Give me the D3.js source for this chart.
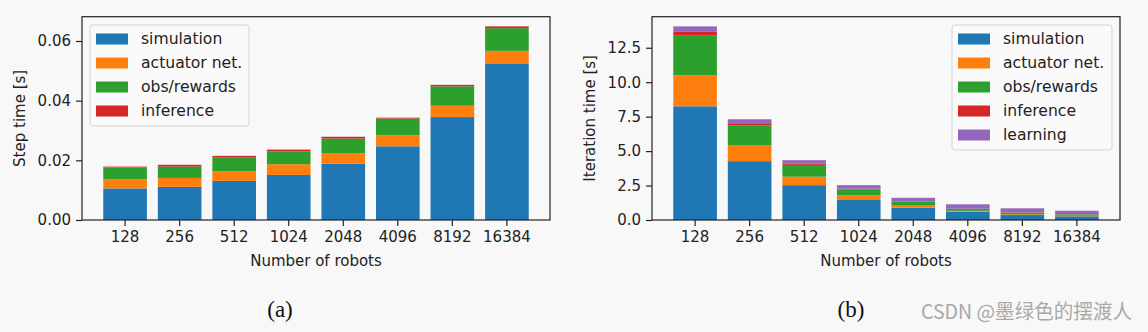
<!DOCTYPE html>
<html><head><meta charset="utf-8">
<script src="https://cdn.jsdelivr.net/npm/d3@7"></script>
<style>
html,body{margin:0;padding:0;background:#f8f8f8;}
svg{display:block;}
</style></head>
<body>
<script>
// ---- data ----
const categories = ["128","256","512","1024","2048","4096","8192","16384"];
const seriesNames = ["simulation","actuator net.","obs/rewards","inference","learning"];
const colors = ["#1f77b4","#ff7f0e","#2ca02c","#d62728","#9467bd"];

// (a) step time [s]
const stepSimulation = [0.0106,0.0111,0.0131,0.0151,0.0189,0.0247,0.0345,0.0525];
const stepActuator   = [0.0031,0.0030,0.0033,0.0036,0.0034,0.0037,0.0038,0.0042];
const stepObs        = [0.0039,0.0038,0.0045,0.0043,0.0050,0.0056,0.0065,0.0076];
const stepInference  = [0.0003,0.0006,0.0006,0.0006,0.0006,0.0003,0.0005,0.0006];
const stepTicks = [0, 0.02, 0.04, 0.06];

// (b) iteration time [s]
const iterSimulation = [8.25,4.27,2.53,1.45,0.89,0.60,0.36,0.27];
const iterActuator   = [2.25,1.14,0.61,0.34,0.15,0.07,0.05,0.04];
const iterObs        = [2.87,1.47,0.86,0.43,0.29,0.13,0.12,0.10];
const iterInference  = [0.32,0.14,0.10,0.05,0.03,0.02,0.02,0.02];
const iterLearning   = [0.36,0.29,0.24,0.26,0.25,0.32,0.30,0.24];
const iterTicks = [0, 2.5, 5.0, 7.5, 10.0, 12.5];

const W = 1148, H = 332;
const SANS = '"DejaVu Sans", sans-serif';
const svg = d3.select("body").append("svg").attr("width", W).attr("height", H);
svg.append("rect").attr("width", W).attr("height", H).attr("fill", "#f8f8f8");

function drawChart(opt) {
  const {x0, x1, yTop, yBot, series, names, ticks, fmt, ylabel, ylabelX, legendX, legendW} = opt;
  const g = svg.append("g");
  const rows = categories.map((c, i) => {
    const r = {cat: c};
    names.forEach((n, k) => r[n] = series[k][i]);
    return r;
  });
  const stack = d3.stack().keys(names)(rows);
  const maxTotal = d3.max(rows, r => d3.sum(names, n => r[n]));
  const x = d3.scaleBand().domain(categories).range([x0, x1]).paddingInner(0.2).paddingOuter(0.39);
  const y = d3.scaleLinear().domain([0, maxTotal * 1.05]).range([yBot, yTop]);

  stack.forEach((layer, k) => {
    g.append("g").attr("fill", colors[k]).selectAll("rect").data(layer).join("rect")
      .attr("x", d => x(d.data.cat))
      .attr("width", x.bandwidth())
      .attr("y", d => y(d[1]))
      .attr("height", d => Math.max(0, y(d[0]) - y(d[1])));
  });

  // axes
  const ax = g.append("g").attr("transform", `translate(0,${yBot})`)
    .call(d3.axisBottom(x).tickSize(6).tickPadding(5));
  const ay = g.append("g").attr("transform", `translate(${x0},0)`)
    .call(d3.axisLeft(y).tickValues(ticks).tickFormat(fmt).tickSize(6).tickPadding(5));
  [ax, ay].forEach(a => {
    a.select(".domain").remove();
    a.selectAll("line").attr("stroke", "#222").attr("stroke-width", 1.2);
    a.selectAll("text").style("font-size", "15px").attr("fill", "#222")
      .style("font-family", SANS);
  });
  // frame
  g.append("rect").attr("x", x0).attr("y", yTop).attr("width", x1 - x0).attr("height", yBot - yTop)
    .attr("fill", "none").attr("stroke", "#222").attr("stroke-width", 1.2);

  g.append("text").attr("x", (x0 + x1) / 2).attr("y", 266).attr("text-anchor", "middle")
    .style("font-family", SANS).style("font-size", "15px").attr("fill", "#222").text("Number of robots");
  g.append("text").attr("transform", `translate(${ylabelX},${(yTop + yBot) / 2}) rotate(-90)`)
    .attr("text-anchor", "middle").attr("dy", "0.35em")
    .style("font-family", SANS).style("font-size", "15px").attr("fill", "#222").text(ylabel);

  // legend
  const rowH = 24;
  const lg = g.append("g").attr("transform", `translate(${legendX},25)`);
  lg.append("rect").attr("width", legendW).attr("height", names.length * rowH + 5)
    .attr("rx", 3).attr("fill", "#f9f9f9").attr("fill-opacity", 0.9)
    .attr("stroke", "#d4d4d4").attr("stroke-width", 1);
  names.forEach((n, k) => {
    lg.append("rect").attr("x", 6).attr("y", 8.5 + k * rowH).attr("width", 32).attr("height", 11)
      .attr("fill", colors[k]);
    lg.append("text").attr("x", 51).attr("y", 14 + k * rowH).attr("dy", "0.35em")
      .style("font-family", SANS).style("font-size", "15.6px").attr("fill", "#222").text(n);
  });
}

drawChart({
  x0: 82, x1: 550, yTop: 16.7, yBot: 220,
  series: [stepSimulation, stepActuator, stepObs, stepInference],
  names: seriesNames.slice(0, 4),
  ticks: stepTicks, fmt: d3.format(".2f"),
  ylabel: "Step time [s]", ylabelX: 20, legendX: 90, legendW: 159
});
drawChart({
  x0: 652, x1: 1120, yTop: 16.7, yBot: 220,
  series: [iterSimulation, iterActuator, iterObs, iterInference, iterLearning],
  names: seriesNames,
  ticks: iterTicks, fmt: d3.format(".1f"),
  ylabel: "Iteration time [s]", ylabelX: 590, legendX: 952, legendW: 160
});

// captions
const SERIF = '"Liberation Serif", "DejaVu Serif", serif';
svg.append("text").attr("x", 280).attr("y", 317).attr("text-anchor", "middle")
  .style("font-family", SERIF).style("font-size", "23px").attr("fill", "#111").text("(a)");
svg.append("text").attr("x", 851).attr("y", 317).attr("text-anchor", "middle")
  .style("font-family", SERIF).style("font-size", "23px").attr("fill", "#111").text("(b)");
svg.append("text").attr("x", 921).attr("y", 319)
  .style("font-family", '"Noto Sans CJK SC", sans-serif').style("font-size", "20px").attr("fill", "#a9a9a9")
  .attr("textLength", 211).attr("lengthAdjust", "spacingAndGlyphs")
  .text("CSDN @墨绿色的摆渡人");
</script>
</body></html>
